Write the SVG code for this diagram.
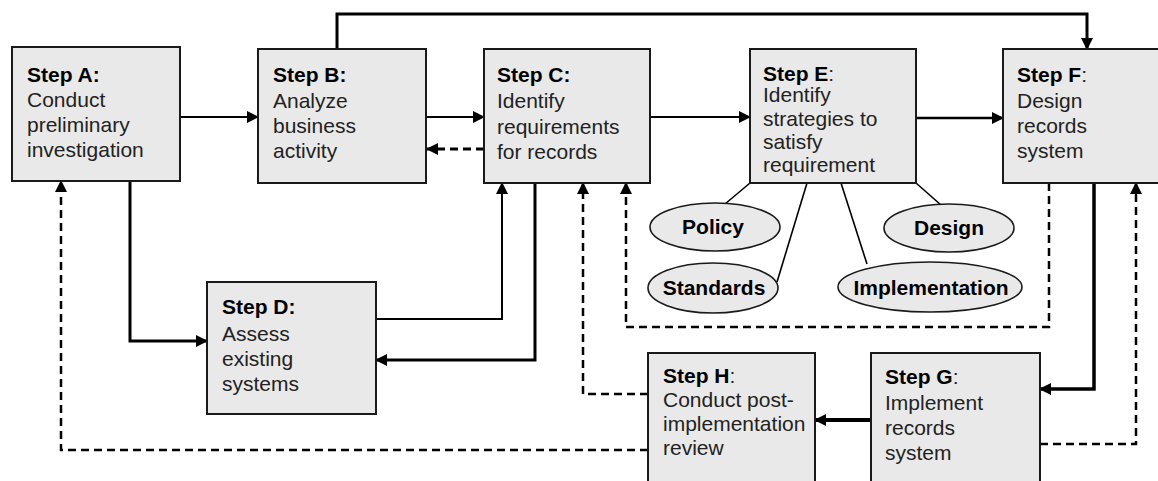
<svg xmlns="http://www.w3.org/2000/svg" width="1158" height="481" viewBox="0 0 1158 481">
<defs>
<style>
.box{fill:#e9e9e9;stroke:#1a1a1a;stroke-width:2}
.ell{fill:#e9e9e9;stroke:#1a1a1a;stroke-width:1.6}
.t{font-family:"Liberation Sans",Arial,sans-serif;font-size:21px;fill:#222}
.b{font-weight:bold;fill:#000}
.n{font-weight:normal;fill:#222}
.et{font-family:"Liberation Sans",Arial,sans-serif;font-size:21px;font-weight:bold;fill:#000;text-anchor:middle}
.c{fill:none;stroke:#000;stroke-linejoin:miter}
.d{stroke-dasharray:8 5}
.thin{fill:none;stroke:#000;stroke-width:1.6}
</style>
<marker id="ah" markerUnits="userSpaceOnUse" markerWidth="12" markerHeight="12" refX="11" refY="6" orient="auto">
<path d="M0,0 L12,6 L0,12 z" fill="#000" stroke="none"/>
</marker>
</defs>
<rect width="1158" height="481" fill="#fff"/>

<g id="connectors">
<path class="c" stroke-width="2" d="M180,117 H258" marker-end="url(#ah)"/>
<path class="c" stroke-width="2" d="M426,117 H484" marker-end="url(#ah)"/>
<path class="c d" stroke-width="3" d="M484,149 H427" marker-end="url(#ah)"/>
<path class="c" stroke-width="2" d="M650,117 H750" marker-end="url(#ah)"/>
<path class="c" stroke-width="2.5" d="M916,118 H1003" marker-end="url(#ah)"/>
<path class="c" stroke-width="3" d="M337,49 V14 H1087 V49" marker-end="url(#ah)"/>
<path class="c" stroke-width="3" d="M130,181 V341 H207" marker-end="url(#ah)"/>
<path class="c" stroke-width="2" d="M376,319 H502 V183" marker-end="url(#ah)"/>
<path class="c" stroke-width="3" d="M535,183 V360 H376" marker-end="url(#ah)"/>
<path class="c d" stroke-width="2.5" d="M648,394 H583 V183" marker-end="url(#ah)"/>
<path class="c d" stroke-width="2.5" d="M1049,183 V327 H626 V183" marker-end="url(#ah)"/>
<path class="c" stroke-width="3.5" d="M1094,183 V389 H1040" marker-end="url(#ah)"/>
<path class="c d" stroke-width="2.5" d="M1040,444 H1136 V183" marker-end="url(#ah)"/>
<path class="c" stroke-width="4" d="M871,420 H815" marker-end="url(#ah)"/>
<path class="c d" stroke-width="2.5" d="M648,450 H61 V181" marker-end="url(#ah)"/>
<path class="thin" d="M750,183 L725,204"/>
<path class="thin" d="M807,183 L777,282"/>
<path class="thin" d="M841,183 L867,264"/>
<path class="thin" d="M916,183 L941,205"/>
</g>

<g id="stepA">
<rect class="box" x="12" y="47" width="168" height="134"/>
<text class="t" x="27"><tspan class="b" x="27" y="82">Step A:</tspan><tspan x="27" y="107">Conduct</tspan><tspan x="27" y="132">preliminary</tspan><tspan x="27" y="157">investigation</tspan></text>
</g>
<g id="stepB">
<rect class="box" x="258" y="49" width="168" height="134"/>
<text class="t"><tspan class="b" x="273" y="82">Step B:</tspan><tspan x="273" y="108">Analyze</tspan><tspan x="273" y="133">business</tspan><tspan x="273" y="158">activity</tspan></text>
</g>
<g id="stepC">
<rect class="box" x="484" y="49" width="166" height="134"/>
<text class="t"><tspan class="b" x="497" y="82">Step C:</tspan><tspan x="497" y="108">Identify</tspan><tspan x="497" y="134">requirements</tspan><tspan x="497" y="159">for records</tspan></text>
</g>
<g id="stepE">
<rect class="box" x="750" y="49" width="166" height="134"/>
<text class="t"><tspan class="b" x="763" y="81">Step E</tspan><tspan class="n">:</tspan><tspan x="763" y="102">Identify</tspan><tspan x="763" y="126">strategies to</tspan><tspan x="763" y="149">satisfy</tspan><tspan x="763" y="172">requirement</tspan></text>
</g>
<g id="stepF">
<rect class="box" x="1003" y="49" width="170" height="134"/>
<text class="t"><tspan class="b" x="1017" y="82">Step F</tspan><tspan class="n">:</tspan><tspan x="1017" y="108">Design</tspan><tspan x="1017" y="133">records</tspan><tspan x="1017" y="158">system</tspan></text>
</g>
<g id="stepD">
<rect class="box" x="207" y="282" width="169" height="132"/>
<text class="t"><tspan class="b" x="222" y="314">Step D:</tspan><tspan x="222" y="341">Assess</tspan><tspan x="222" y="366">existing</tspan><tspan x="222" y="391">systems</tspan></text>
</g>
<g id="stepH">
<rect class="box" x="648" y="353" width="167" height="140"/>
<text class="t"><tspan class="b" x="663" y="383">Step H</tspan><tspan class="n">:</tspan><tspan x="663" y="407">Conduct post-</tspan><tspan x="663" y="431">implementation</tspan><tspan x="663" y="455">review</tspan></text>
</g>
<g id="stepG">
<rect class="box" x="871" y="353" width="169" height="140"/>
<text class="t"><tspan class="b" x="885" y="384">Step G</tspan><tspan class="n">:</tspan><tspan x="885" y="410">Implement</tspan><tspan x="885" y="435">records</tspan><tspan x="885" y="460">system</tspan></text>
</g>

<g id="policy">
<ellipse class="ell" cx="715" cy="227" rx="65" ry="24"/>
<text class="et" x="713" y="234">Policy</text>
</g>
<g id="standards">
<ellipse class="ell" cx="713" cy="288" rx="65" ry="25"/>
<text class="et" x="714" y="295">Standards</text>
</g>
<g id="design">
<ellipse class="ell" cx="949" cy="228" rx="65" ry="24"/>
<text class="et" x="949" y="235">Design</text>
</g>
<g id="implementation">
<ellipse class="ell" cx="930" cy="287" rx="92" ry="25"/>
<text class="et" x="931" y="295">Implementation</text>
</g>
</svg>
